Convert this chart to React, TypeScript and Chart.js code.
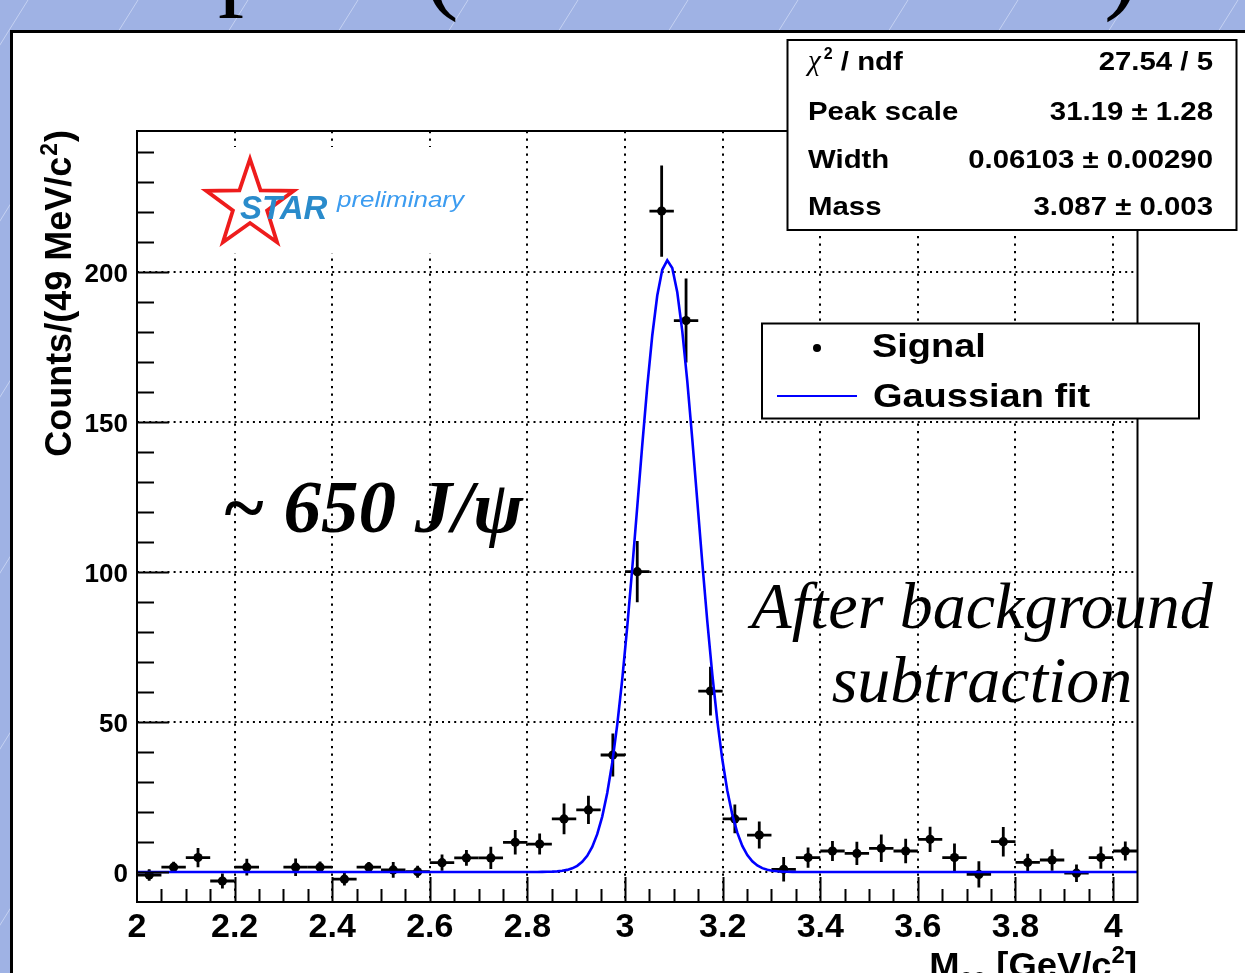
import React, { useEffect, useRef } from 'react';
import { Chart, registerables } from 'chart.js';

Chart.register(...registerables);

// ---- data -------------------------------------------------------------
// Dielectron invariant-mass bin centres (GeV/c^2)
const massBins = [
  2.025, 2.075, 2.125, 2.175, 2.225, 2.275, 2.325, 2.375, 2.425, 2.475,
  2.525, 2.575, 2.625, 2.675, 2.725, 2.775, 2.825, 2.875, 2.925, 2.975,
  3.025, 3.075, 3.125, 3.175, 3.225, 3.275, 3.325, 3.375, 3.425, 3.475,
  3.525, 3.575, 3.625, 3.675, 3.725, 3.775, 3.825, 3.875, 3.925, 3.975,
  4.025,
];
// Background-subtracted counts per bin (null = empty bin, not drawn)
const signalCounts: (number | null)[] = [
  -1.0, 1.6, 4.8, -3.0, 1.6, null, 1.6, 1.6, -2.4, 1.6,
  0.7, 0.1, 3.1, 4.7, 4.7, 9.9, 9.3, 17.7, 20.7, 39.0,
  100.1, 220.3, 183.8, 60.3, 17.7, 12.3, 0.9, 4.8, 7.0, 6.2,
  7.9, 7.0, 10.9, 4.8, -0.8, 10.1, 3.2, 4.0, -0.4, 4.8,
  7.0,
];
// Statistical errors per bin
const signalErrors = [
  1.9, 1.8, 3.2, 2.5, 2.8, 0, 2.9, 1.9, 2.1, 1.7,
  2.6, 2.0, 2.7, 2.6, 3.7, 4.1, 3.5, 5.1, 4.7, 7.2,
  10.2, 15.2, 14.0, 8.1, 4.8, 4.5, 4.1, 3.4, 3.3, 3.9,
  4.6, 4.1, 4.2, 4.7, 4.4, 4.9, 2.9, 3.6, 2.9, 3.7,
  3.2,
];
const BIN_HALF_WIDTH = 0.025;

// Gaussian fit parameters
const PEAK_SCALE = 31.19;
const FIT_WIDTH = 0.06103;
const FIT_MASS = 3.087;

const statLabels = ['χ2 / ndf', 'Peak scale', 'Width', 'Mass'];
const statValues = ['27.54 / 5', '31.19 ± 1.28', '0.06103 ± 0.00290', '3.087 ± 0.003'];

const xTickValues = [2, 2.2, 2.4, 2.6, 2.8, 3, 3.2, 3.4, 3.6, 3.8, 4];
const xTickLabels = ['2', '2.2', '2.4', '2.6', '2.8', '3', '3.2', '3.4', '3.6', '3.8', '4'];
const yTickValues = [0, 50, 100, 150, 200];
const yTickLabels = ['0', '50', '100', '150', '200'];

// ---- layout -----------------------------------------------------------
const W = 1245;
const H = 973;
const X_MIN = 2;
const X_MAX = 4.05;
const Y_MIN = -10;
const Y_MAX = 247;
const PLOT_LEFT = 137;
const PLOT_RIGHT = 1137.5;
const PLOT_TOP = 131;
const PLOT_BOTTOM = 902;

const SANS = "'Liberation Sans', Arial, Helvetica, sans-serif";
const SERIF = "'Liberation Serif', 'Times New Roman', serif";

function gauss(x: number): number {
  const z = (x - FIT_MASS) / FIT_WIDTH;
  return (PEAK_SCALE / (FIT_WIDTH * Math.sqrt(2 * Math.PI))) * Math.exp(-0.5 * z * z);
}

function measure(ctx: CanvasRenderingContext2D, s: string, font: string): number {
  ctx.save();
  ctx.font = font;
  const w = ctx.measureText(s).width;
  ctx.restore();
  return w;
}

// Draw text with an optional horizontal stretch; returns drawn width
function drawText(
  ctx: CanvasRenderingContext2D,
  s: string,
  x: number,
  y: number,
  font: string,
  align: 'left' | 'right' | 'center' = 'left',
  sx = 1,
  color = '#000'
): number {
  ctx.save();
  ctx.font = font;
  ctx.fillStyle = color;
  ctx.textBaseline = 'alphabetic';
  ctx.textAlign = 'left';
  const w = ctx.measureText(s).width * sx;
  const x0 = align === 'left' ? x : align === 'right' ? x - w : x - w / 2;
  ctx.translate(x0, y);
  ctx.scale(sx, 1);
  ctx.fillText(s, 0, 0);
  ctx.restore();
  return w;
}

function drawStar(ctx: CanvasRenderingContext2D, cx: number, cy: number, R: number, r: number) {
  ctx.beginPath();
  for (let k = 0; k < 10; k++) {
    const ang = -Math.PI / 2 + (k * Math.PI) / 5;
    const rad = k % 2 === 0 ? R : r;
    const px = cx + rad * Math.cos(ang);
    const py = cy + rad * Math.sin(ang);
    if (k === 0) ctx.moveTo(px, py);
    else ctx.lineTo(px, py);
  }
  ctx.closePath();
}

const rootStylePlugin = {
  id: 'rootStyle',
  beforeDraw(chart: Chart) {
    const ctx = chart.ctx;
    ctx.save();
    // slide background with faint diagonal stripes
    ctx.fillStyle = '#9FB2E4';
    ctx.fillRect(0, 0, W, H);
    ctx.strokeStyle = 'rgba(236,241,255,0.5)';
    ctx.lineWidth = 1;
    const run = H / Math.tan((58 * Math.PI) / 180);
    for (let x = -800; x < W + 100; x += 110) {
      ctx.beginPath();
      ctx.moveTo(x, H);
      ctx.lineTo(x + run, 0);
      ctx.stroke();
    }
    // slide heading (only its lower edge is inside the frame)
    ctx.fillStyle = '#000';
    ctx.font = `104px ${SERIF}`;
    ctx.fillText('p', 218, -4);
    ctx.fillText('(', 424, 0);
    ctx.fillText(')', 1104, 0);
    // white figure panel with dark border
    ctx.fillStyle = '#fff';
    ctx.fillRect(10, 30, W - 10, H - 30);
    ctx.fillStyle = '#000';
    ctx.fillRect(10, 30, W - 10, 3);
    ctx.fillRect(10, 30, 3, H - 30);
    ctx.restore();
  },
  beforeDatasetsDraw(chart: Chart) {
    const ctx = chart.ctx;
    const xs = chart.scales.x;
    const ys = chart.scales.y;
    ctx.save();
    // STAR preliminary logo
    ctx.fillStyle = '#fff';
    ctx.fillRect(195, 147, 285, 106);
    drawStar(ctx, 250, 205, 46, 18);
    ctx.strokeStyle = '#ee1c1c';
    ctx.lineWidth = 3.8;
    ctx.lineJoin = 'miter';
    ctx.stroke();
    drawText(ctx, 'STAR', 240, 219, `italic bold 33px ${SANS}`, 'left', 1, '#2a8bcb');
    drawText(ctx, 'preliminary', 337, 207, `italic 22px ${SANS}`, 'left', 1.18, '#3c9cf0');

    // error bars
    ctx.strokeStyle = '#000';
    ctx.lineWidth = 2.8;
    ctx.lineCap = 'butt';
    massBins.forEach((m, i) => {
      const v = signalCounts[i];
      if (v === null) return;
      const e = signalErrors[i];
      const px = xs.getPixelForValue(m);
      const py = ys.getPixelForValue(v);
      ctx.beginPath();
      ctx.moveTo(xs.getPixelForValue(m - BIN_HALF_WIDTH), py);
      ctx.lineTo(xs.getPixelForValue(m + BIN_HALF_WIDTH), py);
      ctx.moveTo(px, ys.getPixelForValue(v - e));
      ctx.lineTo(px, ys.getPixelForValue(v + e));
      ctx.stroke();
    });
    ctx.restore();
  },
  afterDatasetsDraw(chart: Chart) {
    const ctx = chart.ctx;
    const xs = chart.scales.x;
    const ys = chart.scales.y;
    const { left, right, top, bottom } = chart.chartArea;
    ctx.save();
    ctx.strokeStyle = '#000';
    ctx.lineWidth = 2;

    // axis ticks (inward)
    ctx.beginPath();
    for (let k = 1; k <= 40; k++) {
      const v = X_MIN + k * 0.05;
      const major = k % 4 === 0;
      const px = Math.round(xs.getPixelForValue(v)) + 0.5;
      if (px >= right - 1) continue;
      ctx.moveTo(px, bottom);
      ctx.lineTo(px, bottom - (major ? 25 : 13));
    }
    for (let k = 0; k <= 25; k++) {
      const v = k * 10;
      const major = k % 5 === 0;
      const py = Math.round(ys.getPixelForValue(v)) + 0.5;
      if (py <= top + 1) continue;
      ctx.moveTo(left, py);
      ctx.lineTo(left + (major ? 32 : 17), py);
    }
    ctx.stroke();

    // frame
    ctx.strokeRect(left, top, right - left, bottom - top);

    // tick labels
    xTickValues.forEach((v, i) => {
      drawText(ctx, xTickLabels[i], xs.getPixelForValue(v), 937, `bold 34px ${SANS}`, 'center');
    });
    yTickValues.forEach((v, i) => {
      drawText(ctx, yTickLabels[i], 128, ys.getPixelForValue(v) + 10, `bold 26px ${SANS}`, 'right');
    });

    // y axis title (rotated, aligned to the top of the axis)
    {
      const fBig = `bold 36px ${SANS}`;
      const fSup = `bold 23px ${SANS}`;
      const w1 = measure(ctx, 'Counts/(49 MeV/c', fBig);
      const w2 = measure(ctx, '2', fSup);
      const w3 = measure(ctx, ')', fBig);
      const total = w1 + w2 + w3 + 2;
      ctx.save();
      ctx.translate(71, 130 + total);
      ctx.rotate(-Math.PI / 2);
      ctx.fillStyle = '#000';
      ctx.font = fBig;
      ctx.fillText('Counts/(49 MeV/c', 0, 0);
      ctx.font = fSup;
      ctx.fillText('2', w1 + 1, -14);
      ctx.font = fBig;
      ctx.fillText(')', w1 + w2 + 2, 0);
      ctx.restore();
    }

    // x axis title (aligned to the right end of the axis)
    {
      const fBig = `bold 35px ${SANS}`;
      const fSub = `bold 23px ${SANS}`;
      const parts = [
        { s: 'M', f: fBig, dy: 0 },
        { s: 'ee', f: fSub, dy: 8 },
        { s: ' [GeV/c', f: fBig, dy: 0 },
        { s: '2', f: fSub, dy: -14 },
        { s: ']', f: fBig, dy: 0 },
      ];
      const total = parts.reduce((a, p) => a + measure(ctx, p.s, p.f), 0) * 1.04;
      let x = 1137 - total;
      parts.forEach((p) => {
        x += drawText(ctx, p.s, x, 977 + p.dy, p.f, 'left', 1.04);
      });
    }

    // fit statistics box
    ctx.fillStyle = '#fff';
    ctx.fillRect(787.5, 40, 449, 190);
    ctx.strokeRect(787.5, 40, 449, 190);
    const rowBase = [70, 120, 168, 215];
    const statFont = `bold 26px ${SANS}`;
    statLabels.forEach((lab, i) => {
      if (i === 0) {
        let x = 808;
        x += drawText(ctx, 'χ', x, rowBase[0], `italic 29px ${SERIF}`, 'left');
        x += drawText(ctx, '2', x + 3, rowBase[0] - 11, `bold 16px ${SANS}`, 'left') + 3;
        drawText(ctx, ' / ndf', x, rowBase[0], statFont, 'left', 1.13);
      } else {
        drawText(ctx, lab, 808, rowBase[i], statFont, 'left', 1.13);
      }
      drawText(ctx, statValues[i], 1213, rowBase[i], statFont, 'right', 1.13);
    });

    // legend
    ctx.fillStyle = '#fff';
    ctx.fillRect(762, 323.5, 437, 95);
    ctx.strokeRect(762, 323.5, 437, 95);
    ctx.fillStyle = '#000';
    ctx.beginPath();
    ctx.arc(817, 348, 4, 0, Math.PI * 2);
    ctx.fill();
    ctx.strokeStyle = '#0000ff';
    ctx.lineWidth = 2;
    ctx.beginPath();
    ctx.moveTo(777, 396);
    ctx.lineTo(857, 396);
    ctx.stroke();
    drawText(ctx, 'Signal', 872, 356.5, `bold 33px ${SANS}`, 'left', 1.15);
    drawText(ctx, 'Gaussian fit', 873, 406.5, `bold 33px ${SANS}`, 'left', 1.15);

    // annotations
    drawText(ctx, '~ 650 J/ψ', 222, 532, `italic bold 75px ${SERIF}`, 'left');
    drawText(ctx, 'After background', 982, 628, `italic 66px ${SERIF}`, 'center');
    drawText(ctx, 'subtraction', 982, 702, `italic 66px ${SERIF}`, 'center');

    ctx.restore();
  },
};

export default function App() {
  const ref = useRef<HTMLCanvasElement>(null);

  useEffect(() => {
    const canvas = ref.current;
    if (!canvas) return;

    // sampled fit function over the full mass range
    const npx = 200;
    const fitPoints: { x: number; y: number }[] = [];
    for (let k = 0; k <= npx; k++) {
      const x = X_MIN + ((X_MAX - X_MIN) * k) / npx;
      fitPoints.push({ x, y: gauss(x) });
    }
    const signalPoints = massBins.map((x, i) => ({ x, y: signalCounts[i] }));

    const chart = new Chart(canvas, {
      type: 'scatter',
      data: {
        datasets: [
          {
            label: 'Gaussian fit',
            data: fitPoints,
            showLine: true,
            borderColor: '#0000ff',
            borderWidth: 2.6,
            pointRadius: 0,
            tension: 0,
            order: 0,
          },
          {
            label: 'Signal',
            data: signalPoints as any,
            pointRadius: 4.6,
            pointBackgroundColor: '#000',
            pointBorderWidth: 0,
            order: 1,
          },
        ],
      },
      options: {
        responsive: false,
        animation: false,
        devicePixelRatio: 1,
        layout: { padding: { left: 0, top: PLOT_TOP, right: W - PLOT_RIGHT, bottom: 0 } },
        plugins: {
          legend: { display: false },
          tooltip: { enabled: false },
          title: { display: false },
        },
        scales: {
          x: {
            type: 'linear',
            min: X_MIN,
            max: X_MAX,
            afterFit: (s: any) => {
              s.height = H - PLOT_BOTTOM;
            },
            ticks: { display: false, stepSize: 0.2, includeBounds: false },
            grid: { color: '#000', lineWidth: 2, drawTicks: false },
            border: { display: false, dash: [2.2, 5.3] },
          },
          y: {
            type: 'linear',
            min: Y_MIN,
            max: Y_MAX,
            afterFit: (s: any) => {
              s.width = PLOT_LEFT;
            },
            ticks: { display: false, stepSize: 50, includeBounds: false },
            grid: { color: '#000', lineWidth: 2, drawTicks: false },
            border: { display: false, dash: [2, 4.1] },
          },
        },
      },
      plugins: [rootStylePlugin as any],
    });

    return () => chart.destroy();
  }, []);

  return (
    <div style={{ position: 'fixed', left: 0, top: 0, width: W, height: H, overflow: 'hidden' }}>
      <canvas ref={ref} width={W} height={H} style={{ display: 'block', width: W, height: H }} />
    </div>
  );
}
